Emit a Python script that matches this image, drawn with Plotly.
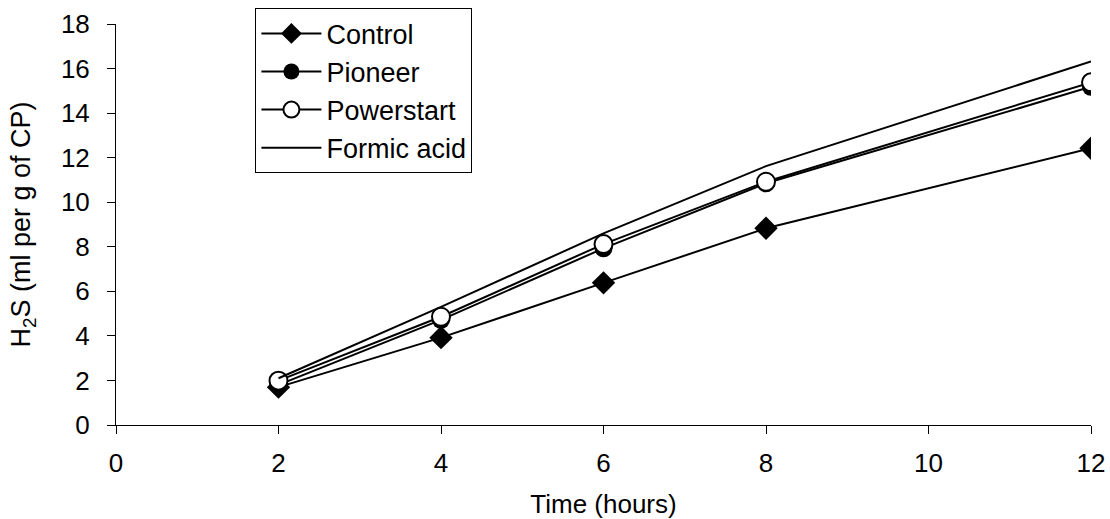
import plotly.graph_objects as go

hours = [2, 4, 6, 8, 12]
control = [1.7, 3.92, 6.38, 8.83, 12.42]
pioneer = [1.8, 4.72, 7.93, 10.85, 15.18]
powerstart = [1.99, 4.86, 8.12, 10.92, 15.38]
formic_acid = [2.1, 5.3, 8.6, 11.62, 16.32]

x_ticks = [0, 2, 4, 6, 8, 10, 12]
y_ticks = [0, 2, 4, 6, 8, 10, 12, 14, 16, 18]

FONT = "Liberation Sans, Arial, sans-serif"
FS = 26

fig = go.Figure()
fig.add_trace(go.Scatter(
    x=hours, y=control, name="Control", mode="lines+markers",
    line=dict(color="black", width=2),
    marker=dict(symbol="diamond", size=18, color="black"),
    legendgroup="a"))
fig.add_trace(go.Scatter(
    x=hours, y=pioneer, name="Pioneer", mode="lines+markers",
    line=dict(color="black", width=2),
    marker=dict(symbol="circle", size=18, color="black"),
    legendgroup="b"))
fig.add_trace(go.Scatter(
    x=hours, y=powerstart, name="Powerstart", mode="lines+markers",
    line=dict(color="black", width=2),
    marker=dict(symbol="circle", size=18, color="white",
                line=dict(color="black", width=2)),
    legendgroup="c"))
fig.add_trace(go.Scatter(
    x=hours, y=formic_acid, name="Formic acid", mode="lines",
    line=dict(color="black", width=2),
    legendgroup="d"))

fig.update_layout(
    width=1110, height=519,
    margin=dict(l=116, r=19, t=24, b=94, autoexpand=False),
    paper_bgcolor="white", plot_bgcolor="white",
    font=dict(family=FONT, size=FS, color="black"),
    showlegend=True,
    legend=dict(
        x=0.143, y=1.039, xanchor="left", yanchor="top",
        bordercolor="black", borderwidth=1, bgcolor="white",
        font=dict(family=FONT, size=27, color="black"),
        itemwidth=60, tracegroupgap=0, traceorder="grouped",
    ),
    xaxis=dict(
        range=[0, 12], tickvals=x_ticks, ticktext=[str(v) for v in x_ticks],
        showgrid=False, zeroline=False, showline=True, linecolor="black",
        linewidth=1, ticks="outside", ticklen=8, tickcolor="black",
        tickfont=dict(size=FS), ticklabelstandoff=7, automargin=False,
        title=dict(text="Time (hours)", font=dict(size=FS), standoff=21),
    ),
    yaxis=dict(
        range=[0, 18], tickvals=y_ticks, ticktext=[str(v) for v in y_ticks],
        showgrid=False, zeroline=False, showline=True, linecolor="black",
        linewidth=1, ticks="outside", ticklen=8, tickcolor="black",
        tickfont=dict(size=FS), ticklabelstandoff=12, automargin=False,
        title=dict(text="H<sub>2</sub>S (ml per g of CP)", font=dict(size=27),
                   standoff=22),
    ),
)

fig.write_html("out.html")
